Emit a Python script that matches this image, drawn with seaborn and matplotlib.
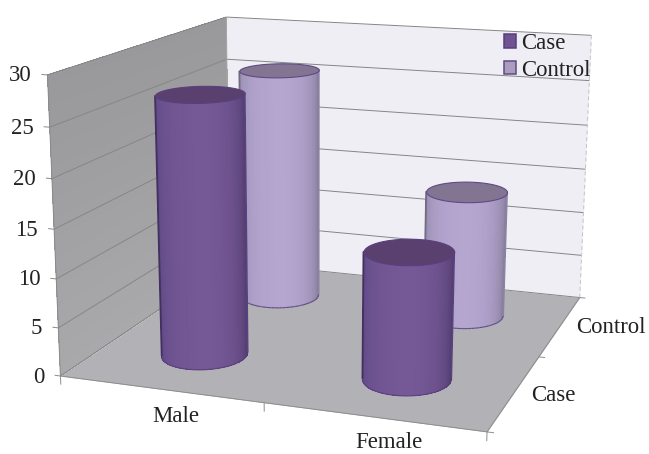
import numpy as np
import matplotlib
matplotlib.use("Agg")
import matplotlib.pyplot as plt
from matplotlib.patches import Patch
from mpl_toolkits.mplot3d.art3d import Poly3DCollection, Line3DCollection
import seaborn as sns

# Chart values
sexes = ["Male", "Female"]
groups = ["Case", "Control"]
case_values = [27.0, 13.0]
control_values = [26.0, 14.0]
value_ticks = [0, 5, 10, 15, 20, 25, 30]

sns.set_theme(style="white")
plt.rcParams["font.family"] = ["Liberation Serif", "DejaVu Serif"]

W, H = 649, 454
FONT = 16.4
fig = plt.figure(figsize=(W / 100, H / 100), dpi=100)
ax = fig.add_axes([0, 0, 1, 1], projection="3d", computed_zorder=False)
ax.set_axis_off()
ax.apply_aspect = lambda position=None: None
ax.set_xlim(0, 2)
ax.set_ylim(0, 2)
ax.set_zlim(0, 30)

# Camera: a pinhole matrix solved from the box corners and the axis ticks.
anchors = np.array([
    (0, 0, 0, 61, 376), (2, 0, 0, 487, 432), (2, 2, 0, 580, 297), (0, 2, 0, 229, 262),
    (0, 0, 30, 47, 75), (0, 2, 30, 227, 17), (2, 2, 30, 591, 35),
    (0, 0, 15, 54, 229), (2, 2, 15, 585.5, 170),
], dtype=float)
rows = []
for X, Y, Z, u, v in anchors:
    q = [X, Y, Z / 15, 1]
    u, v = u / 500, v / 500
    rows.append(q + [0, 0, 0, 0] + [-u * c for c in q])
    rows.append([0, 0, 0, 0] + q + [-v * c for c in q])
camera = np.linalg.svd(np.array(rows))[2][-1].reshape(3, 4)
camera = np.diag([500.0, 500.0, 1.0]) @ camera @ np.diag([1.0, 1.0, 1 / 15, 1.0])
eye = np.linalg.svd(camera)[2][-1]
eye_xy = eye[:2] / eye[3]


def to_pixels(x, y, z):
    w = camera @ np.array([x, y, z, 1.0])
    return w[:2] / w[2]


def get_proj():
    flip = np.array([[1.0, 0, 0], [0, -1.0, H], [0, 0, 1.0]])
    q = ax.transData.inverted().get_matrix() @ flip @ camera
    return np.vstack([q[0], q[1], eye, q[2]])


ax.get_proj = get_proj


def add_polys(polys, colors, zorder, lw=0.0, edges=None, smooth=False):
    coll = Poly3DCollection(polys, facecolors=colors,
                            edgecolors=colors if edges is None else edges,
                            linewidths=lw, antialiased=smooth)
    coll.set_zorder(zorder)
    ax.add_collection3d(coll)


def add_line(xs, ys, zs, color, lw=0.7, zorder=3, ls="-"):
    points = np.column_stack([xs, ys, zs])
    segments = np.stack([points[:-1], points[1:]], axis=1)
    coll = Line3DCollection(segments, colors=color, linewidths=lw, linestyles=ls)
    coll.set_zorder(zorder)
    ax.add_collection3d(coll)


# Walls and floor
add_polys([[(0, 2, 0), (2, 2, 0), (2, 2, 30), (0, 2, 30)]], ["#efeef4"], 1)
levels = np.linspace(0, 30, 31)
shade = sns.blend_palette(["#a9a9ac", "#99999b"], 30)
add_polys([[(0, 0, a), (0, 2, a), (0, 2, b), (0, 0, b)] for a, b in zip(levels[:-1], levels[1:])],
          shade, 1)
add_polys([[(0, 0, 0), (2, 0, 0), (2, 2, 0), (0, 2, 0)]], ["#b2b1b5"], 2)

# Gridlines, box edges and ticks
for tick in value_ticks:
    add_line([0, 0], [0, 2], [tick, tick], "#868686")
    add_line([0, 2], [2, 2], [tick, tick], "#858585")
    add_line([-0.03, 0], [0, 0], [tick, tick], "#8a8a8a")
add_line([2, 2], [2, 2], [0, 30], "#c4c4c8", ls=(0, (4, 3)))
add_line([0, 0], [0, 0], [0, 30], "#8a8a8a")
add_line([0, 0], [2, 2], [0, 30], "#a8a8aa")
add_line([0, 2], [0, 0], [0, 0], "#8d8d8d")
add_line([2, 2], [0, 2], [0, 0], "#8d8d8d")
for tick in range(3):
    add_line([tick, tick], [0, 0], [0, -0.9], "#8d8d8d")
    add_line([2, 2.03], [tick, tick], [0, 0], "#8d8d8d")

# Cylinder colours: left rim, centre, right rim, top, outline
styles = {
    "Case": ("#574380", "#755896", "#42305e", "#5a406f", "#5a3f80"),
    "Control": ("#8c83a2", "#b5a6d0", "#736a86", "#827591", "#5f4a85"),
}
RX, RY = 0.2, 0.22
theta = np.linspace(0, 2 * np.pi, 181)


def draw_cylinder(cx, cy, value, style, zorder):
    left, mid, right, top, rim = [np.array(matplotlib.colors.to_rgb(c)) for c in style]
    xs = cx + RX * np.cos(theta)
    ys = cy + RY * np.sin(theta)
    view = np.array([(eye_xy[0] - cx) / RX, (eye_xy[1] - cy) / RY])
    view /= np.linalg.norm(view)
    quads, colors, visible = [], [], []
    for i in range(len(theta) - 1):
        t = 0.5 * (theta[i] + theta[i + 1])
        facing = np.cos(t) * view[0] + np.sin(t) * view[1]
        if facing <= 0:
            continue
        rim_col = right if np.cos(t) > 0 else left
        colors.append(tuple(rim_col + (mid - rim_col) * facing ** 0.7))
        quads.append([(xs[i], ys[i], 0), (xs[i + 1], ys[i + 1], 0),
                      (xs[i + 1], ys[i + 1], value), (xs[i], ys[i], value)])
        visible.append(i)
    add_polys(quads, colors, zorder)
    add_polys([[(a, b, value) for a, b in zip(xs, ys)]], [tuple(top)], zorder + 0.1, lw=0.8,
              edges=[tuple(rim)], smooth=True)
    order = np.array(visible)
    order = np.roll(order, -int(np.argmax(np.diff(order, append=order[0]) != 1)) - 1)
    add_line(xs[order], ys[order], np.zeros(len(order)), tuple(rim), lw=0.8, zorder=zorder + 0.1)
    for end, col in ((order[0], right), (order[-1], left)):
        add_line([xs[end], xs[end]], [ys[end], ys[end]], [0, value], tuple(col), lw=1.3,
                 zorder=zorder + 0.05)


for i in range(2):
    draw_cylinder(i + 0.5, 1.5, control_values[i], styles["Control"], 4 + i)
for i in range(2):
    draw_cylinder(i + 0.5, 0.5, case_values[i], styles["Case"], 6 + i)


def label(text, anchor, dx, dy, ha="center"):
    px, py = to_pixels(*anchor)
    ax.annotate(text, xy=(px + dx, H - (py + dy)), xycoords="figure pixels",
                ha=ha, va="center", fontsize=FONT, color="#222222", zorder=20)


for tick in value_ticks:
    label(str(tick), (0, 0, tick), -16, 1, ha="right")
label(sexes[0], (0.5, 0, 0), 16, 27)
label(sexes[1], (1.5, 0, 0), 16, 26)
label(groups[0], (2, 0.5, 0), 39, 3)
label(groups[1], (2, 1.5, 0), 51, 2)

handles = [Patch(facecolor="#6f5392", edgecolor="#5a3f80", lw=1.1, label=groups[0]),
           Patch(facecolor="#aa9dbe", edgecolor="#5f4a85", lw=1.1, label=groups[1])]
ax.legend(handles=handles, loc="upper left", bbox_to_anchor=(504 / W, 1 - 33 / H),
          bbox_transform=fig.transFigure, frameon=False, fontsize=FONT,
          handlelength=0.52, handleheight=0.52, handletextpad=0.25,
          labelspacing=0.26, borderpad=0, borderaxespad=0, labelcolor="#222222").set_zorder(30)

fig.savefig("out.png", dpi=100)
